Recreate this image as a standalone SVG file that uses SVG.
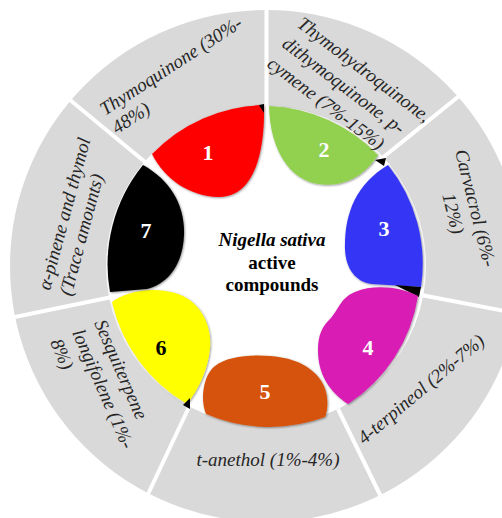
<svg xmlns="http://www.w3.org/2000/svg" width="502" height="518" viewBox="0 0 502 518">
<style>
.lbl{font-family:"Liberation Serif","Times New Roman",serif;font-style:italic;font-size:19px;fill:#262626}
.mid{text-anchor:middle}
.num{font-family:"Liberation Serif","Times New Roman",serif;font-weight:bold;font-size:22px;fill:#fff;text-anchor:middle}
.ctr{font-family:"Liberation Serif","Times New Roman",serif;font-weight:bold;font-size:19px;fill:#000;text-anchor:middle}
.sep{stroke:#fff;stroke-width:4;stroke-linecap:butt}
.sh{fill:#000}
.blob{filter:url(#bevel)}
</style>
<defs>
<filter id="bevel" x="-10%" y="-10%" width="120%" height="120%">
<feDropShadow dx="0.8" dy="0.8" stdDeviation="0.8" flood-color="#000" flood-opacity="0.45"/>
</filter>
</defs>
<rect width="502" height="518" fill="#fff"/>
<g id="ring">
<circle cx="266" cy="266" r="208" fill="none" stroke="#d9d9d9" stroke-width="96"/>
</g>
<g id="connectors">
<line class="sep" x1="266.5" y1="0" x2="266.5" y2="108"/>
<line class="sep" x1="381" y1="159" x2="505" y2="59"/>
<line class="sep" x1="416" y1="294" x2="510" y2="312"/>
<line class="sep" x1="338" y1="409" x2="386" y2="507"/>
<line class="sep" x1="189" y1="407" x2="141" y2="509"/>
<line class="sep" x1="112" y1="297" x2="0" y2="320"/>
<line class="sep" x1="145" y1="162" x2="58" y2="90"/>
</g>
<g id="node1">
<path class="blob" d="M152,154 A160,160 0 0 1 264,105 C265,150 255,198 218,197 C190,196 165,180 152,154 Z" fill="#ff0000"/>
<polygon class="sh" points="259,105 264,104 264,113"/>
<text class="num" x="208" y="160">1</text>
<text class="lbl" transform="translate(105,116) rotate(-33)"><tspan x="0" y="0">Thymoquinone (30%-</tspan><tspan x="0" y="22">48%)</tspan></text>
</g>
<g id="node2">
<path class="blob" d="M269,106 A160,160 0 0 1 378,155 C365,175 345,188 318,184 C290,180 270,150 269,106 Z" fill="#92d050"/>
<polygon class="sh" points="375,160 386,158 384,166"/>
<text class="num" x="324" y="157">2</text>
<text class="lbl" transform="translate(296,26) rotate(37)"><tspan x="0" y="0">Thymohydroquinone,</tspan><tspan x="0" y="25">dithymoquinone, p-</tspan><tspan x="0" y="50">cymene (7%-15%)</tspan></text>
</g>
<g id="node3">
<path class="blob" d="M388,165 A158,158 0 0 1 421,287 L372,284 C355,282 346,268 345,250 C344,215 355,185 388,165 Z" fill="#3636f5"/>
<polygon class="sh" points="395,285 421,287 419,297"/>
<text class="num" x="384" y="236">3</text>
<text class="lbl mid" transform="translate(469.5,209.5) rotate(76)"><tspan x="0" y="0">Carvacrol (6%-</tspan><tspan x="0" y="23">12%)</tspan></text>
</g>
<g id="node4">
<path class="blob" d="M348,404 C330,392 318,375 318,350 C318,335 322,327 330,319 C338,311 340,298 355,292 C375,284 400,287 418,296 A158,158 0 0 1 348,404 Z" fill="#d81bb4"/>
<text class="num" x="368" y="355">4</text>
<text class="lbl mid" transform="translate(425,394) rotate(-40)">4-terpineol (2%-7%)</text>
</g>
<g id="node5">
<path class="blob" d="M206,414 C200,400 203,375 215,366 C228,356 255,353 284,358 C305,362 322,375 326,392 C328,400 328,410 325,417 A161,161 0 0 1 206,414 Z" fill="#d5530a"/>
<text class="num" x="265" y="399">5</text>
<text class="lbl mid" x="268" y="466">t-anethol (1%-4%)</text>
</g>
<g id="node6">
<path class="blob" d="M112,302 C125,292 150,286 175,293 C200,300 212,325 210,348 C208,370 198,390 187,404 A159,159 0 0 1 112,302 Z" fill="#ffff00"/>
<polygon class="sh" points="183,405 190,398 190,409"/>
<text class="num" x="161" y="355" style="fill:#000">6</text>
<text class="lbl" transform="translate(94,323) rotate(66.5)"><tspan x="0" y="0">Sesquiterpene</tspan><tspan x="0" y="24">longifolene (1%-</tspan><tspan x="0" y="48">8%)</tspan></text>
</g>
<g id="node7">
<path class="blob" d="M143,165 C170,180 185,205 184,235 C183,262 170,283 147,289 L110,292 A158,158 0 0 1 143,165 Z" fill="#000"/>
<text class="num" x="146" y="238">7</text>
<text class="lbl" transform="translate(50,291) rotate(-75)"><tspan x="0" y="0">α-pinene and thymol</tspan><tspan x="0" y="22">(Trace amounts)</tspan></text>
</g>
<g id="center">
<text class="ctr" x="272" y="246" style="font-style:italic">Nigella sativa</text>
<text class="ctr" x="272" y="269">active</text>
<text class="ctr" x="272" y="291">compounds</text>
</g>
</svg>
